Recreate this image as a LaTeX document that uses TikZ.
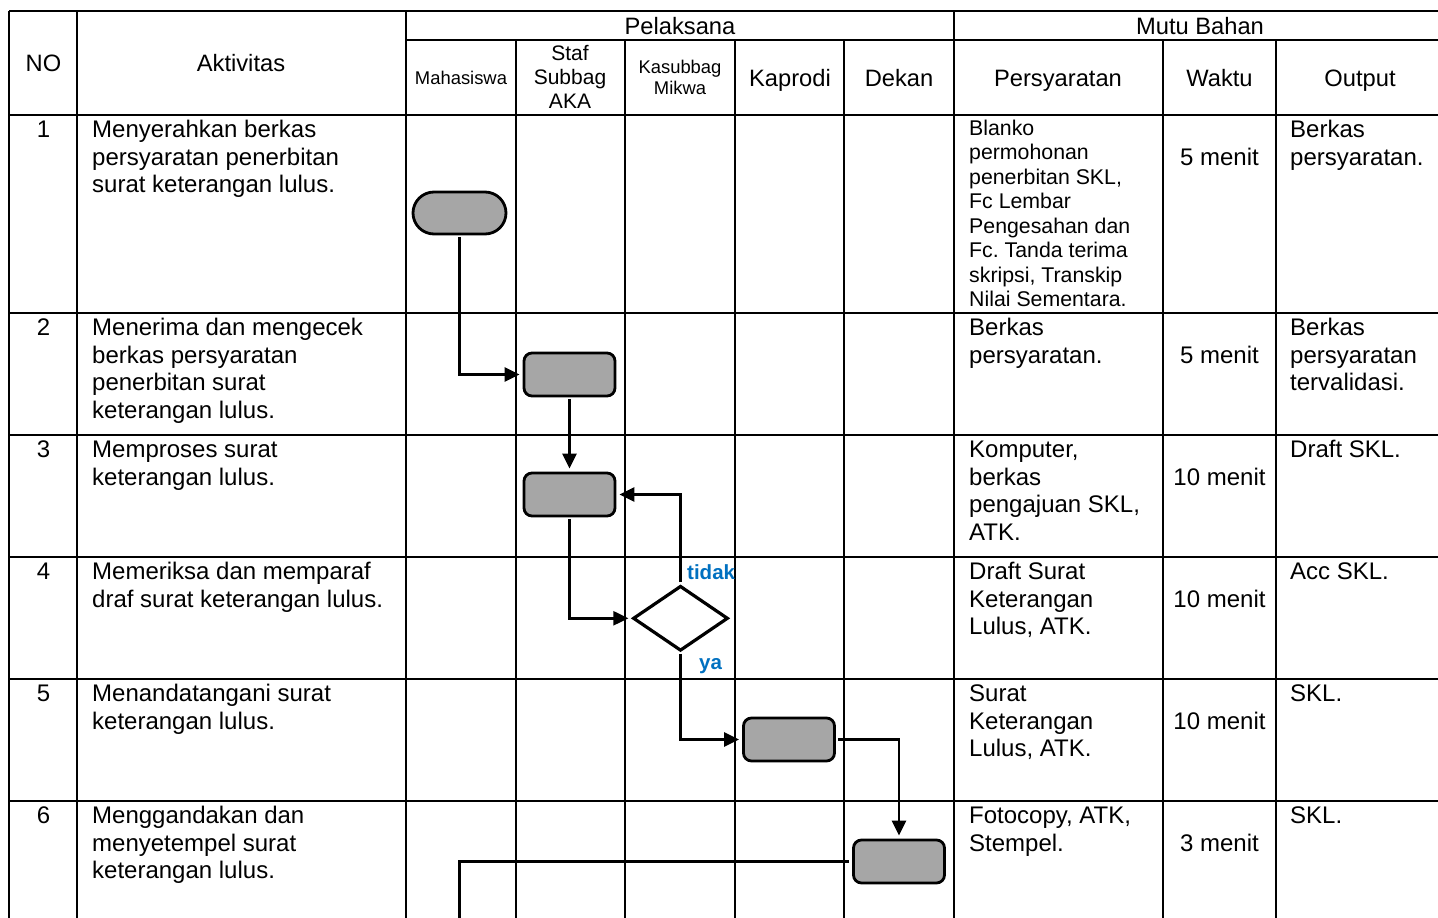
\documentclass[tikz,border=0pt]{standalone}
\usepackage{fontspec}
\setmainfont{Liberation Sans}
\usetikzlibrary{shapes.geometric,arrows.meta}
\definecolor{boxgray}{RGB}{166,166,166}
\definecolor{lblblue}{RGB}{0,112,192}
\frenchspacing
\tikzset{
  grid/.style={line width=2.4pt, black},
  txt/.style={anchor=base west, inner sep=0pt, font=\fontsize{24}{27.6}\selectfont},
  smalltxt/.style={anchor=base west, inner sep=0pt, font=\fontsize{21.3}{24.5}\selectfont},
  hdr/.style={anchor=base, inner sep=0pt, font=\fontsize{23.7}{27}\selectfont},
  termbox/.style={draw, line width=2.8pt, fill=boxgray, rectangle, rounded corners=21pt, minimum width=93pt, minimum height=42pt, inner sep=0pt},
  procbox/.style={draw, line width=2.8pt, fill=boxgray, rectangle, rounded corners=8pt, minimum width=91pt, minimum height=43pt, inner sep=0pt},
  decbox/.style={draw, line width=3.2pt, fill=white, diamond, minimum width=95pt, minimum height=65pt, inner sep=0pt},
  conn/.style={line width=2.4pt, -{Triangle[length=15pt,width=14pt]}, shorten >=3pt, shorten <=2pt},
  plainconn/.style={line width=2.4pt, shorten <=3pt},
  lbl/.style={anchor=base west, inner sep=0pt, text=lblblue, font=\fontsize{20.5}{24}\selectfont\bfseries}
}
\begin{document}
\frenchspacing
\begin{tikzpicture}[x=1pt,y=-1pt]
\useasboundingbox (0,0) rectangle (1438,918);
% ---------- table grid ----------
\draw[grid] (9,11) -- (1438,11);
\draw[grid] (406,40) -- (1438,40);
\draw[grid] (9,115) -- (1438,115);
\foreach \y in {313,435,557,679,801} \draw[grid] (9,\y) -- (1438,\y);
\foreach \x in {9,77,406,954} \draw[grid] (\x,11) -- (\x,918);
\foreach \x in {516,625,735,844,1163,1276} \draw[grid] (\x,40) -- (\x,918);
% ---------- header ----------
\node[hdr] (hNO) at (43.5,71.5) {NO};
\node[hdr] (hAkt) at (241,71.5) {Aktivitas};
\node[hdr] (hPel) at (680,34.4) {Pelaksana};
\node[hdr] (hMutu) at (1200,34.4) {Mutu Bahan};
\node[hdr, font=\fontsize{18.4}{21}\selectfont] (hMhs) at (461,84.6) {Mahasiswa};
\foreach \t [count=\i from 0] in {Staf,Subbag,AKA}
  \node[hdr, font=\fontsize{21}{24}\selectfont] (hStaf\i) at (570,60.5+24*\i) {\t};
\foreach \t [count=\i from 0] in {Kasubbag,Mikwa}
  \node[hdr, font=\fontsize{18.4}{21}\selectfont] (hKas\i) at (680,73.6+21*\i) {\t};
\node[hdr] (hKap) at (790,86) {Kaprodi};
\node[hdr] (hDek) at (899,86) {Dekan};
\node[hdr] (hPer) at (1058,86) {Persyaratan};
\node[hdr] (hWak) at (1219.5,86) {Waktu};
\node[hdr] (hOut) at (1360,86) {Output};
% ---------- numbers and waktu ----------
\foreach \n/\y/\w in {1/137.5/5 menit, 2/335.5/5 menit, 3/457.5/10 menit, 4/579.5/10 menit, 5/701.5/10 menit, 6/823.5/3 menit}{
  \node[hdr, font=\fontsize{24}{27.6}\selectfont] (no\n) at (43.5,\y) {\n};
  \node[hdr, font=\fontsize{24}{27.6}\selectfont] (wk\n) at (1219.5,\y+27.6) {\w};
}
% ---------- aktivitas ----------
\foreach \t [count=\i from 0] in {Menyerahkan berkas, persyaratan penerbitan, surat keterangan lulus.}
  \node[txt] (ak1-\i) at (92,137.5+27.6*\i) {\t};
\foreach \t [count=\i from 0] in {Menerima dan mengecek, berkas persyaratan, penerbitan surat, keterangan lulus.}
  \node[txt] (ak2-\i) at (92,335.5+27.6*\i) {\t};
\foreach \t [count=\i from 0] in {Memproses surat, keterangan lulus.}
  \node[txt] (ak3-\i) at (92,457.5+27.6*\i) {\t};
\foreach \t [count=\i from 0] in {Memeriksa dan memparaf, draf surat keterangan lulus.}
  \node[txt] (ak4-\i) at (92,579.5+27.6*\i) {\t};
\foreach \t [count=\i from 0] in {Menandatangani surat, keterangan lulus.}
  \node[txt] (ak5-\i) at (92,701.5+27.6*\i) {\t};
\foreach \t [count=\i from 0] in {Menggandakan dan, menyetempel surat, keterangan lulus.}
  \node[txt] (ak6-\i) at (92,823.5+27.6*\i) {\t};
% ---------- persyaratan ----------
\foreach \t [count=\i from 0] in {Blanko, permohonan, {penerbitan SKL,}, Fc Lembar, Pengesahan dan, Fc. Tanda terima, {skripsi, Transkip}, Nilai Sementara.}
  \node[smalltxt] (ps1-\i) at (969,135.3+24.5*\i) {\t};
\foreach \t [count=\i from 0] in {Berkas, persyaratan.}
  \node[txt] (ps2-\i) at (969,335.5+27.6*\i) {\t};
\foreach \t [count=\i from 0] in {{Komputer,}, berkas, {pengajuan SKL,}, ATK.}
  \node[txt] (ps3-\i) at (969,457.5+27.6*\i) {\t};
\foreach \t [count=\i from 0] in {Draft Surat, Keterangan, {Lulus, ATK.}}
  \node[txt] (ps4-\i) at (969,579.5+27.6*\i) {\t};
\foreach \t [count=\i from 0] in {Surat, Keterangan, {Lulus, ATK.}}
  \node[txt] (ps5-\i) at (969,701.5+27.6*\i) {\t};
\foreach \t [count=\i from 0] in {{Fotocopy, ATK,}, Stempel.}
  \node[txt] (ps6-\i) at (969,823.5+27.6*\i) {\t};
% ---------- output ----------
\foreach \t [count=\i from 0] in {Berkas, persyaratan.}
  \node[txt] (op1-\i) at (1290,137.5+27.6*\i) {\t};
\foreach \t [count=\i from 0] in {Berkas, persyaratan, tervalidasi.}
  \node[txt] (op2-\i) at (1290,335.5+27.6*\i) {\t};
\node[txt] (op3-0) at (1290,457.5) {Draft SKL.};
\node[txt] (op4-0) at (1290,579.5) {Acc SKL.};
\node[txt] (op5-0) at (1290,701.5) {SKL.};
\node[txt] (op6-0) at (1290,823.5) {SKL.};
% ---------- flowchart ----------
\node[termbox] (t1) at (459.5,213) {};
\node[procbox] (p2) at (569.5,374.5) {};
\node[procbox] (p3) at (569.5,494.5) {};
\node[decbox] (d4) at (680.5,618.3) {};
\node[procbox] (p5) at (789,739.5) {};
\node[procbox] (p6) at (899,861.5) {};
\coordinate (endc) at (459.5,918);
\draw[conn] (t1.south) |- (p2.west);
\draw[conn] (p2.south) -- (p3.north);
\draw[conn] (p3.south) |- (d4.west);
\draw[conn] (d4.north) |- (p3.east);
\draw[conn] (d4.south) |- (p5.west);
\draw[conn] (p5.east) -| (p6.north);
\draw[plainconn] (p6.west) -| (endc);
\node[lbl] (ltidak) at (687,579) {tidak};
\node[lbl] (lya) at (699,669) {ya};
\end{tikzpicture}
\end{document}
